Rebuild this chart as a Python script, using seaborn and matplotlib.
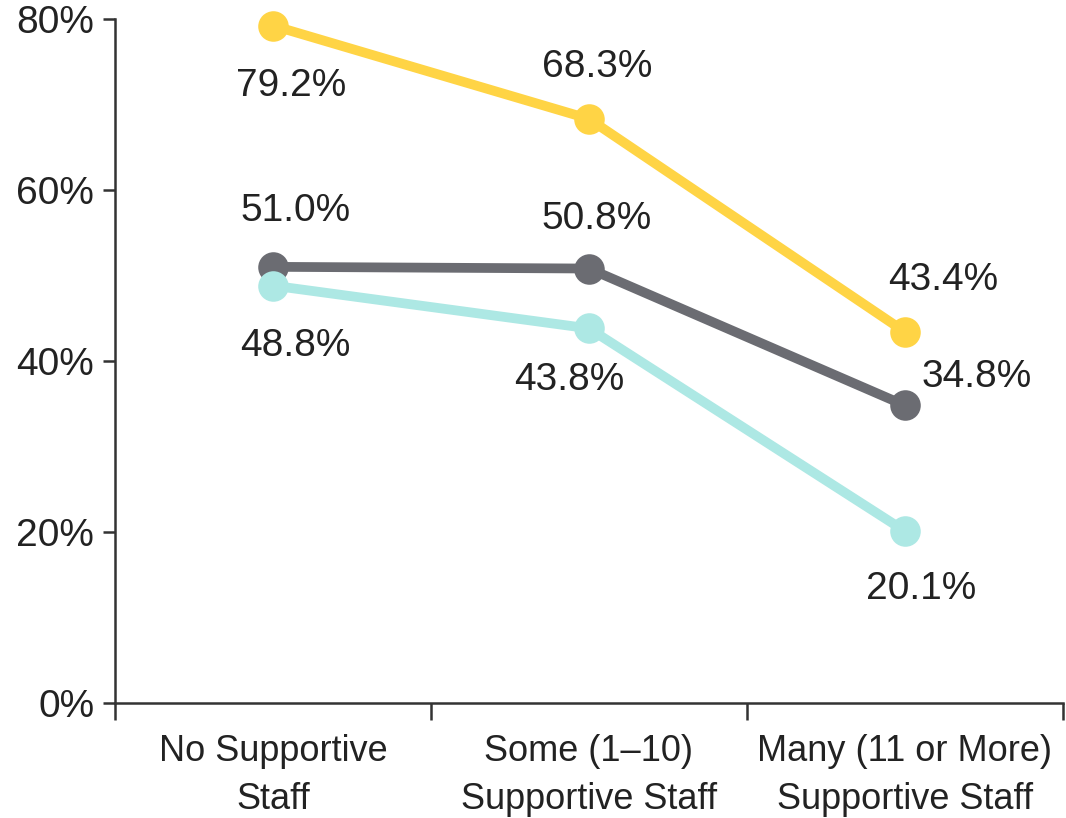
import numpy as np
import matplotlib.pyplot as plt
import seaborn as sns
import pandas as pd
from matplotlib.ticker import FixedLocator

categories = ["No Supportive\nStaff", "Some (1\u201310)\nSupportive Staff", "Many (11 or More)\nSupportive Staff"]
series_names = ["Yellow", "Gray", "Cyan"]
yellow_vals = [79.2, 68.3, 43.4]
gray_vals = [51.0, 50.8, 34.8]
cyan_vals = [48.8, 43.8, 20.1]
y_ticks = [0, 20, 40, 60, 80]

colors = {"Yellow": "#ffd445", "Gray": "#6b6c72", "Cyan": "#ade8e4"}

# label offsets (pixels) per series per point
offsets = {
    "Yellow": [(18, -60), (8, 52), (38, 52)],
    "Gray": [(22, 56), (8, 50), (72, 28)],
    "Cyan": [(22, -60), (-20, -52), (16, -58)],
}

rows = []
for name, vals in zip(series_names, [yellow_vals, gray_vals, cyan_vals]):
    for i, v in enumerate(vals):
        rows.append({"series": name, "x": i, "value": v})
df = pd.DataFrame(rows)

sns.set_style("white")
plt.rcParams["font.family"] = ["Liberation Sans", "DejaVu Sans"]

fig = plt.figure(figsize=(10.66, 8.18), dpi=100)
ax = fig.add_axes([0.108, 0.1406, 0.889, 0.8364])

sns.lineplot(
    data=df, x="x", y="value", hue="series", palette=colors,
    marker="o", markersize=22, markeredgewidth=0, linewidth=7,
    legend=False, ax=ax,
)

for name, vals in zip(series_names, [yellow_vals, gray_vals, cyan_vals]):
    for i, v in enumerate(vals):
        ax.annotate(f"{v:.1f}%", (i, v), xytext=offsets[name][i],
                    textcoords="offset pixels", ha="center", va="center",
                    fontsize=28, color="#222222")

ax.set_xlim(-0.5, 2.5)
ax.set_ylim(0, 80)
ax.set_yticks(y_ticks)
ax.set_yticklabels([f"{t}%" for t in y_ticks], fontsize=28, color="#222222")
ax.set_xticks(range(len(categories)))
ax.set_xticklabels(categories, fontsize=26, color="#222222", linespacing=1.5)
ax.xaxis.set_minor_locator(FixedLocator([-0.5, 0.5, 1.5, 2.5]))
ax.tick_params(axis="x", which="major", bottom=True, length=0, pad=22)
ax.tick_params(axis="x", which="minor", bottom=True, length=12, width=1.8,
               color="#333333", direction="out")
ax.tick_params(axis="y", left=True, length=9, width=1.8, color="#333333",
               direction="out", pad=6)
ax.set_xlabel("")
ax.set_ylabel("")

sns.despine(ax=ax)
for s in ["left", "bottom"]:
    ax.spines[s].set_linewidth(1.8)
    ax.spines[s].set_color("#333333")
for line in ax.lines:
    line.set_clip_on(False)

fig.savefig("out.png", dpi=100)
